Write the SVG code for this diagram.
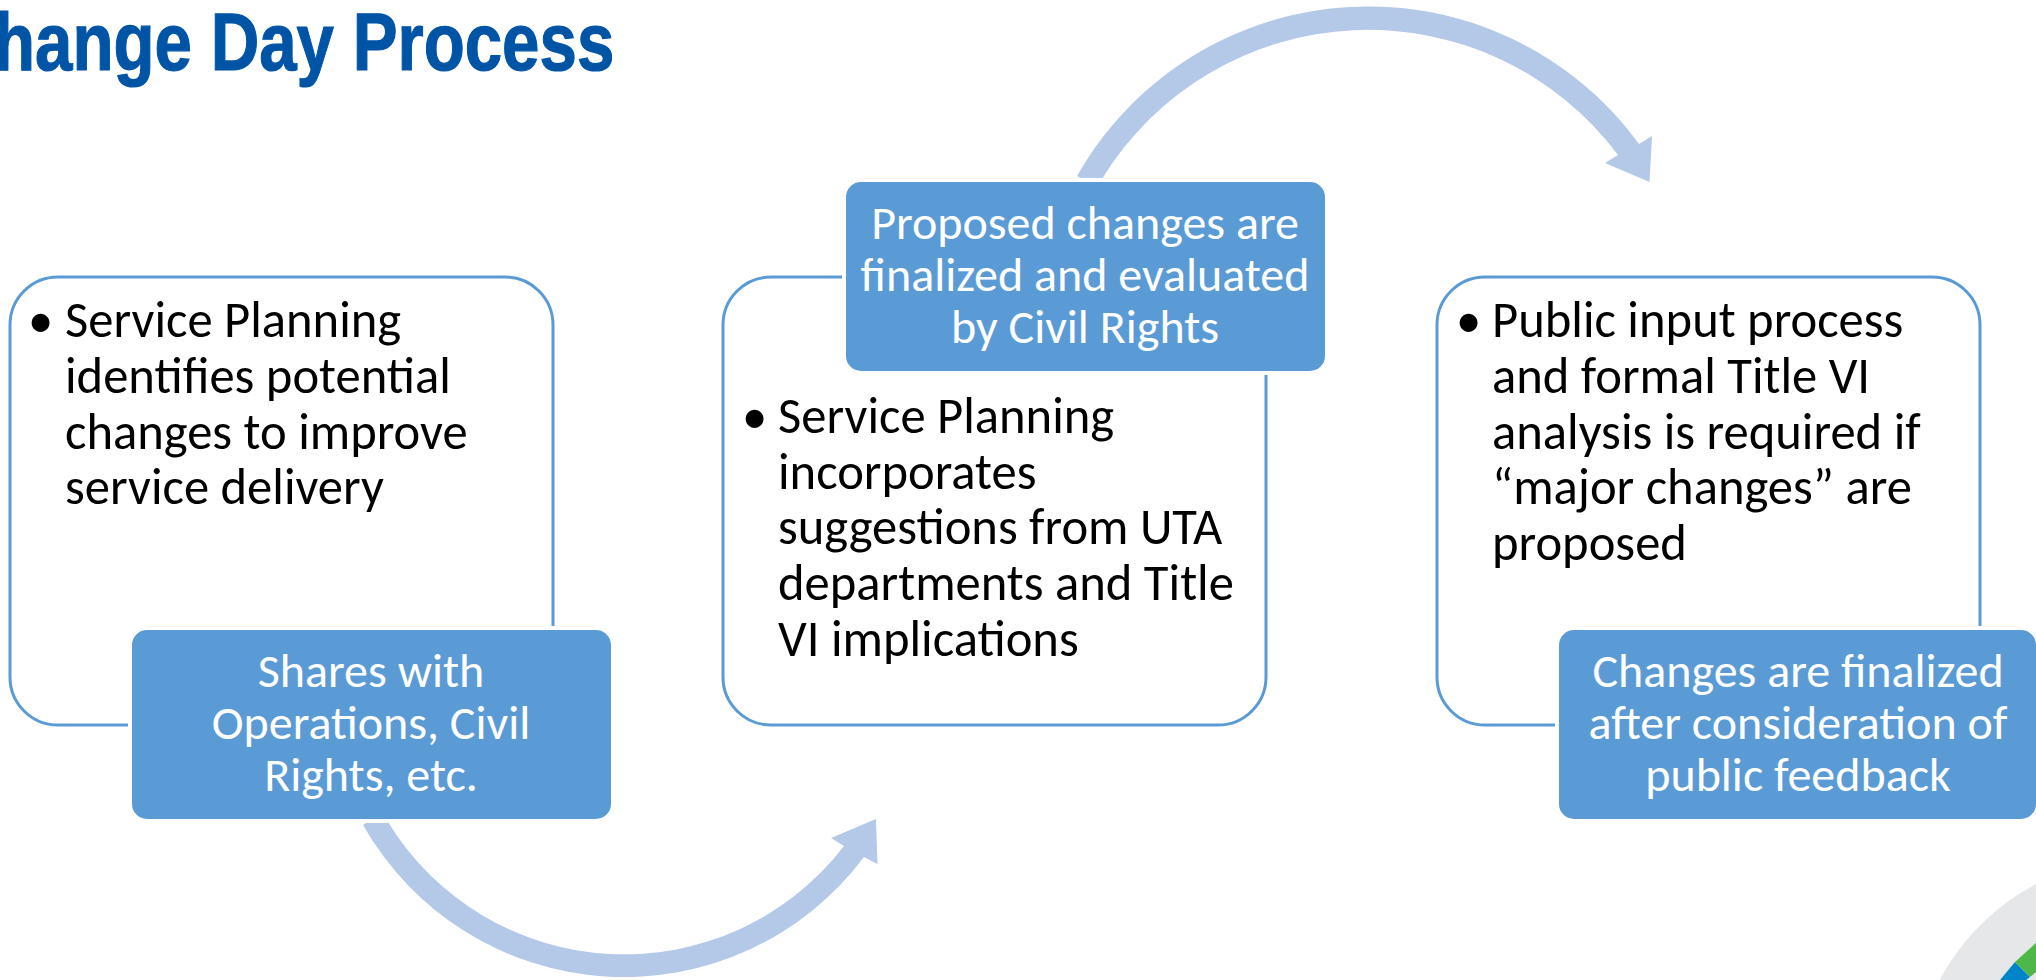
<svg xmlns="http://www.w3.org/2000/svg" width="2036" height="980" viewBox="0 0 2036 980">
<style>
.card{fill:#fff;stroke:#5B9BD5;stroke-width:3}
.tag{fill:#5B9BD5;stroke:#fff;stroke-width:4}
.arc{fill:#B4C9E8}
text{font-family:Carlito,Lato,"Liberation Sans",sans-serif}
.b{font-size:50.6px;fill:#000}
.w{font-size:48px;fill:#fff;text-anchor:middle}
.t{font-family:"Liberation Sans",sans-serif;font-weight:700;font-size:82px;fill:#0054A6;stroke:#0054A6;stroke-width:1.2}
</style>
<rect width="2036" height="980" fill="#fff"/>
<g id="logo">
<circle cx="2145" cy="1090" r="233" fill="#E6E7E8"/>
<path d="M2000 980L2015 962L2030 977L2026 980Z" fill="#0085CA"/>
<path d="M2015 962L2036 943V972L2030 977Z" fill="#4DB848"/>
</g>
<g id="title"><text class="t" transform="translate(-6 70) scale(.82 1)">hange Day Process</text></g>
<g id="connectors">
<path class="arc" d="M363 825L369 821L388 822A277 277 0 0 0 844 846L831 838L876 819L877.5 864L864 857A300 300 0 0 1 363 825Z"/>
<path class="arc" d="M1077 176L1083 179H1102A312 312 0 0 1 1618 155L1605 163L1649.5 182L1652 136L1639 144A335 335 0 0 0 1077 176Z"/>
</g>
<g id="node1">
<rect class="card" x="10" y="277" width="543" height="448" rx="48"/>
<text class="b"><tspan x="28" y="337">•</tspan><tspan x="65" y="337">Service Planning</tspan><tspan x="65" y="393">identifies potential</tspan><tspan x="65" y="449">changes to improve</tspan><tspan x="65" y="504">service delivery</tspan></text>
</g>
<g id="tag1">
<rect class="tag" x="130" y="628" width="483" height="193" rx="17"/>
<text class="w"><tspan x="371" y="687">Shares with</tspan><tspan x="371" y="739">Operations, Civil</tspan><tspan x="371" y="791">Rights, etc.</tspan></text>
</g>
<g id="node2">
<rect class="card" x="723" y="277" width="543" height="448" rx="48"/>
<text class="b"><tspan x="742" y="433">•</tspan><tspan x="778" y="433">Service Planning</tspan><tspan x="778" y="489">incorporates</tspan><tspan x="778" y="544">suggestions from UTA</tspan><tspan x="778" y="600">departments and Title</tspan><tspan x="778" y="656">VI implications</tspan></text>
</g>
<g id="tag2">
<rect class="tag" x="844" y="180" width="483" height="193" rx="17"/>
<text class="w"><tspan x="1085" y="239">Proposed changes are</tspan><tspan x="1085" y="291">finalized and evaluated</tspan><tspan x="1085" y="343">by Civil Rights</tspan></text>
</g>
<g id="node3">
<rect class="card" x="1437" y="277" width="543" height="448" rx="48"/>
<text class="b"><tspan x="1456" y="337">•</tspan><tspan x="1492" y="337">Public input process</tspan><tspan x="1492" y="393">and formal Title VI</tspan><tspan x="1492" y="449">analysis is required if</tspan><tspan x="1492" y="504">“major changes” are</tspan><tspan x="1492" y="560">proposed</tspan></text>
</g>
<g id="tag3">
<rect class="tag" x="1557" y="628" width="481" height="193" rx="17"/>
<text class="w"><tspan x="1798" y="687">Changes are finalized</tspan><tspan x="1798" y="739">after consideration of</tspan><tspan x="1798" y="791">public feedback</tspan></text>
</g>
</svg>
